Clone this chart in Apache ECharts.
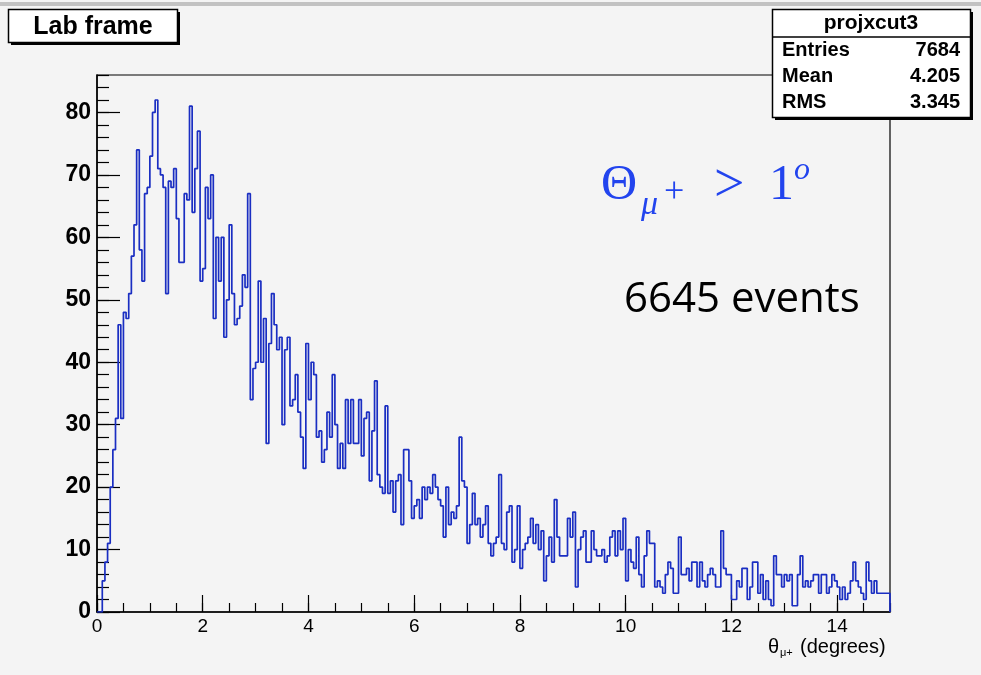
<!DOCTYPE html>
<html>
<head>
<meta charset="utf-8">
<script src="https://cdn.jsdelivr.net/npm/echarts@6/dist/echarts.min.js"></script>
<style>
  html, body { margin: 0; padding: 0; background: #f4f4f4; }
  #chart { width: 981px; height: 675px; }
</style>
</head>
<body>
<div id="chart"></div>
<script>
// histogram projxcut3 : 300 bins from 0 to 15 degrees
var binWidth = 0.05;
var xMin = 0, xMax = 15;
var yMax = 86;
var counts = [
  0, 0, 5, 8, 11, 20, 26, 31, 46, 31, 48, 47, 51, 57, 62, 74, 58, 53, 67, 68,
  73, 80, 82, 71, 70, 68, 51, 69, 68, 71, 63, 56, 56, 67, 66, 81, 64, 71, 77, 53,
  55, 68, 63, 70, 47, 60, 53, 60, 44, 50, 62, 51, 46, 47, 49, 54, 52, 67, 34, 39,
  40, 53, 40, 47, 27, 43, 51, 46, 42, 44, 30, 42, 44, 33, 34, 38, 32, 28, 23, 43,
  34, 40, 38, 28, 29, 24, 26, 32, 28, 38, 30, 23, 27, 23, 34, 27, 34, 27, 27, 34,
  25, 31, 32, 21, 29, 37, 22, 20, 19, 33, 19, 21, 16, 21, 22, 14, 26, 26, 21, 15,
  17, 18, 15, 20, 18, 20, 19, 22, 20, 18, 17, 12, 20, 14, 16, 15, 17, 28, 21, 20,
  11, 14, 19, 14, 15, 12, 14, 17, 11, 9, 11, 12, 22, 11, 10, 16, 17, 8, 10, 17,
  7, 10, 11, 12, 15, 11, 14, 10, 13, 5, 9, 12, 8, 18, 12, 9, 9, 9, 15, 12,
  16, 4, 10, 12, 13, 8, 8, 13, 10, 9, 9, 10, 8, 9, 12, 13, 9, 13, 10, 15,
  5, 10, 8, 7, 12, 6, 4, 9, 13, 11, 11, 4, 5, 4, 3, 6, 8, 7, 3, 3,
  12, 6, 6, 7, 5, 8, 8, 4, 8, 5, 4, 6, 7, 6, 4, 4, 13, 7, 6, 6,
  2, 2, 5, 4, 7, 7, 2, 4, 8, 8, 3, 6, 2, 5, 2, 1, 9, 6, 6, 4,
  6, 5, 6, 1, 1, 6, 9, 4, 5, 4, 5, 6, 6, 3, 6, 6, 3, 4, 6, 5,
  4, 2, 4, 2, 3, 5, 8, 5, 4, 3, 2, 8, 5, 3, 5, 3, 3, 3, 3, 3
];
var statTitle = 'projxcut3';
var statLabels = ['Entries', 'Mean', 'RMS'];
var statValues = ['7684', '4.205', '3.345'];

var histPoints = counts.map(function (c, i) {
  return [+(xMin + i * binWidth).toFixed(2), c];
});
histPoints.push([xMax, counts[counts.length - 1]]);
histPoints.push([xMax, 0]);

var blue = '#1a2ec2';
var texBlue = '#2244ee';
var helv = 'Liberation Sans, Arial, sans-serif';
var serif = 'Liberation Serif, serif';

var graphics = [
  { type: 'rect', z: 1, shape: { x: 0, y: 2, width: 981, height: 4 }, style: { fill: '#c2c2c2' } },
  // title box
  { type: 'rect', z: 100, shape: { x: 11, y: 12, width: 169, height: 33 }, style: { fill: '#000' } },
  { type: 'rect', z: 101, shape: { x: 8.5, y: 9.5, width: 169, height: 33 }, style: { fill: '#fff', stroke: '#000', lineWidth: 1.5 } },
  { type: 'text', z: 102, style: { text: 'Lab frame', x: 93, y: 27, font: 'bold 25px ' + helv, fill: '#000', textAlign: 'center', textVerticalAlign: 'middle' } },
  // stat box
  { type: 'rect', z: 100, shape: { x: 775, y: 12, width: 198, height: 108 }, style: { fill: '#000' } },
  { type: 'rect', z: 101, shape: { x: 772.5, y: 9.5, width: 198, height: 108 }, style: { fill: '#fff', stroke: '#000', lineWidth: 1.5 } },
  { type: 'line', z: 102, shape: { x1: 772.5, y1: 37, x2: 970.5, y2: 37 }, style: { stroke: '#000', lineWidth: 1.5 } },
  { type: 'text', z: 102, style: { text: statTitle, x: 871, y: 23, font: 'bold 21px ' + helv, fill: '#000', textAlign: 'center', textVerticalAlign: 'middle' } },
  // annotations
  { type: 'text', z: 50, style: { text: 'Θ', x: 601, y: 186, font: '50px ' + serif, fill: texBlue, textAlign: 'left', textVerticalAlign: 'middle' } },
  { type: 'text', z: 50, style: { text: 'μ', x: 641, y: 205, font: 'italic 34px ' + serif, fill: texBlue, textAlign: 'left', textVerticalAlign: 'middle' } },
  { type: 'text', z: 50, style: { text: '+', x: 664, y: 193, font: '36px ' + serif, fill: texBlue, textAlign: 'left', textVerticalAlign: 'middle' } },
  { type: 'text', z: 50, style: { text: '>', x: 714, y: 187, font: '54px ' + serif, fill: texBlue, textAlign: 'left', textVerticalAlign: 'middle' } },
  { type: 'text', z: 50, style: { text: '1', x: 769, y: 186, font: '50px ' + serif, fill: texBlue, textAlign: 'left', textVerticalAlign: 'middle' } },
  { type: 'text', z: 50, style: { text: 'o', x: 794, y: 171, font: 'italic 32px ' + serif, fill: texBlue, textAlign: 'left', textVerticalAlign: 'middle' } },
  { type: 'text', z: 50, style: { text: '6645 events', x: 624, y: 300, font: '42px Open Sans, sans-serif', fill: '#000', textAlign: 'left', textVerticalAlign: 'middle' } },
  // x axis title
  { type: 'text', z: 50, style: { text: 'θ', x: 768, y: 647, font: '20px ' + helv, fill: '#000', textAlign: 'left', textVerticalAlign: 'middle' } },
  { type: 'text', z: 50, style: { text: 'μ+', x: 780, y: 653, font: '11px ' + helv, fill: '#000', textAlign: 'left', textVerticalAlign: 'middle' } },
  { type: 'text', z: 50, style: { text: '(degrees)', x: 800, y: 647, font: '20px ' + helv, fill: '#000', textAlign: 'left', textVerticalAlign: 'middle' } }
];
for (var i = 0; i < statLabels.length; i++) {
  var yy = 50 + i * 26;
  graphics.push({ type: 'text', z: 102, style: { text: statLabels[i], x: 782, y: yy, font: 'bold 20px ' + helv, fill: '#000', textAlign: 'left', textVerticalAlign: 'middle' } });
  graphics.push({ type: 'text', z: 102, style: { text: statValues[i], x: 960, y: yy, font: 'bold 20px ' + helv, fill: '#000', textAlign: 'right', textVerticalAlign: 'middle' } });
}

var myChart = echarts.init(document.getElementById('chart'));
var option = {
  backgroundColor: '#f4f4f4',
  animation: false,
  grid: {
    left: 97, right: 91, top: 75, bottom: 63,
    show: true, borderColor: '#000', borderWidth: 1.2, backgroundColor: 'transparent'
  },
  xAxis: [
    {
      type: 'value', min: xMin, max: xMax, interval: 2, position: 'bottom',
      axisLine: { onZero: false, lineStyle: { color: '#000', width: 1.5 } },
      axisTick: { inside: true, length: 17, lineStyle: { color: '#000', width: 1.2 } },
      axisLabel: { color: '#000', fontFamily: helv, fontSize: 19, margin: 5, showMaxLabel: false },
      splitLine: { show: false }
    },
    {
      type: 'value', min: xMin, max: xMax, interval: 0.5, position: 'bottom',
      axisLine: { show: false },
      axisTick: { inside: true, length: 9, lineStyle: { color: '#000', width: 1.2 } },
      axisLabel: { show: false },
      splitLine: { show: false }
    }
  ],
  yAxis: [
    {
      type: 'value', min: 0, max: yMax, interval: 10, position: 'left',
      axisLine: { show: true, onZero: false, lineStyle: { color: '#000', width: 1.5 } },
      axisTick: { show: true, inside: true, length: 23, lineStyle: { color: '#000', width: 1.2 } },
      axisLabel: { color: '#000', fontFamily: helv, fontWeight: 'bold', fontSize: 23, margin: 6, showMaxLabel: false },
      splitLine: { show: false }
    },
    {
      type: 'value', min: 0, max: yMax, interval: 2, position: 'left',
      axisLine: { show: false },
      axisTick: { show: true, inside: true, length: 12, lineStyle: { color: '#000', width: 1.2 } },
      axisLabel: { show: false },
      splitLine: { show: false }
    }
  ],
  series: [
    {
      type: 'line',
      xAxisIndex: 0,
      yAxisIndex: 0,
      step: 'end',
      symbol: 'none',
      data: histPoints,
      lineStyle: { color: blue, width: 1.7 },
      z: 5
    }
  ],
  graphic: graphics
};
myChart.setOption(option);
</script>
</body>
</html>
